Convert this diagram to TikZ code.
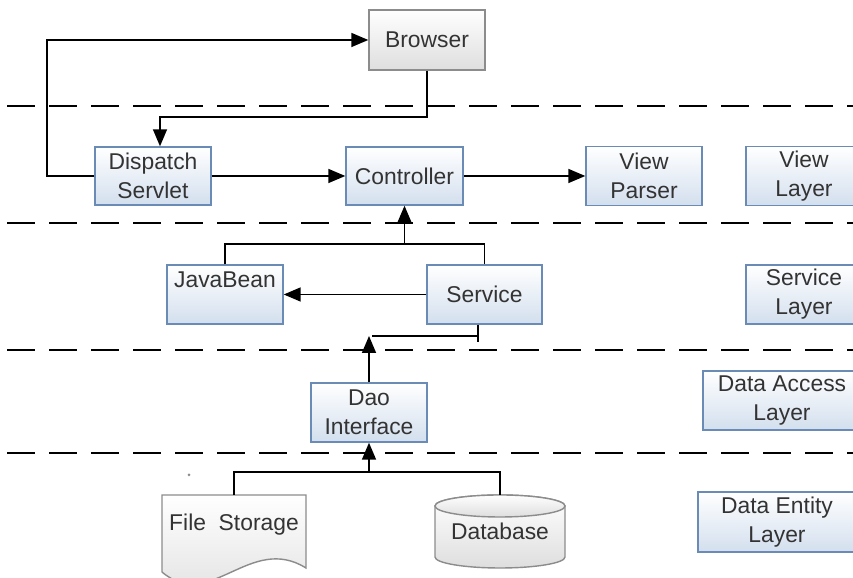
\documentclass[tikz,border=0pt]{standalone}
\usepackage{fontspec}
\setmainfont{Liberation Sans}
\usetikzlibrary{arrows.meta,calc}

\definecolor{boxline}{HTML}{6A8BB5}
\definecolor{boxfill}{HTML}{D3DFEE}
\definecolor{grayline}{HTML}{8C8C8C}
\definecolor{grayfill}{HTML}{DEDEDE}
\definecolor{txt}{HTML}{333333}

\tikzset{
  layerbox/.style={draw=boxline, line width=0.8pt, top color=white, bottom color=boxfill,
    inner sep=0pt, minimum width=2.32cm, minimum height=1.18cm, align=center,
    text=txt, font=\fontsize{13}{16.5}\selectfont},
  graybox/.style={layerbox, draw=grayline, bottom color=grayfill},
  storetext/.style={inner sep=0pt, text=txt, font=\fontsize{13}{16.5}\selectfont},
  storeshape/.style={draw=grayline, line width=0.8pt, top color=white, bottom color=grayfill},
  flow/.style={line width=0.9pt, -{Triangle[length=0.34cm,width=0.28cm]}},
  wire/.style={line width=0.9pt},
  divider/.style={line width=1.6pt, dash pattern=on 0.56cm off 0.28cm},
}

\begin{document}
\begin{tikzpicture}
            \clip (0,0) rectangle (17.06,11.56);

            %% layer dividers
            \draw[divider] (0.14,9.44) -- (17.06,9.44);
            \draw[divider] (0.14,7.1)  -- (17.06,7.1);
            \draw[divider] (0.14,4.56) -- (17.06,4.56);
            \draw[divider] (0.14,2.5)  -- (17.06,2.5);

            %% storage outlines
            \draw[storeshape] (3.24,1.66) -- (6.12,1.66) -- (6.12,0.2)
                .. controls (5.0,0.9) and (4.2,-0.7) .. (3.24,0.12) -- cycle;
            \draw[storeshape] (8.7,1.44) -- (8.7,0.42)
                arc[start angle=180, end angle=360, x radius=1.3, y radius=0.22]
                -- (11.3,1.44)
                arc[start angle=0, end angle=180, x radius=1.3, y radius=0.22] -- cycle;
            \draw[storeshape] (10,1.44) ellipse [x radius=1.3, y radius=0.22];
            \fill[grayline] (3.78,2.06) circle (0.03);

            %% boxes
            \node[graybox, minimum height=1.2cm] (browser) at (8.54,10.76) {Browser};
            \node[layerbox, minimum height=1.16cm] (dispatch) at (3.06,8.04) {Dispatch\\Servlet};
            \node[layerbox, minimum height=1.16cm, minimum width=2.34cm] (controller) at (8.09,8.04) {Controller};
            \node[layerbox] (viewparser) at (12.88,8.04) {View\\Parser};
            \node[layerbox] (viewlayer) at (16.08,8.04) {View\\Layer};
            \node[layerbox] (javabean) at (4.5,5.67) {JavaBean\\\mbox{}};
            \node[layerbox, minimum width=2.3cm] (service) at (9.69,5.67) {Service};
            \node[layerbox] (servicelayer) at (16.08,5.67) {Service\\Layer};
            \node[layerbox] (dao) at (7.38,3.31) {Dao\\Interface};
            \node[layerbox, minimum width=3.16cm] (dataaccess) at (15.64,3.55) {Data Access\\Layer};
            \node[layerbox, minimum width=3.16cm, minimum height=1.2cm] (dataentity) at (15.54,1.12) {Data Entity\\Layer};
            \node[storetext, minimum width=2.88cm, minimum height=1.2cm] (filestorage) at (4.68,1.06) {File\ \ Storage};
            \node[storetext, minimum width=2.6cm, minimum height=1.46cm] (database) at (10,0.93) {Database};

            %% turning points
            \coordinate (loopturn) at (0.94,10.76);
            \coordinate (browserbend) at (3.2,9.22);
            \coordinate (svcbus) at (8.09,6.68);
            \coordinate (svcdrop) at (9.56,4.72);
            \coordinate (daotip) at (7.38,4.84);
            \coordinate (storebus) at (7.38,2.12);

            %% connectors
            \draw[flow] (dispatch.west) -| (loopturn) -- (browser.west);
            \draw[flow] (browser.south) |- (browserbend) -- (browserbend |- dispatch.north);
            \draw[flow] (dispatch.east) -- (controller.west);
            \draw[flow] (controller.east) -- (viewparser.west);

            \draw[wire] (javabean.north) |- (svcbus) -| (service.north);
            \draw[flow] (svcbus) -- (controller.south);
            \draw[flow] (service.west) -- (javabean.east);

            \draw[wire] (service.south -| svcdrop) -- (svcdrop);
            \draw[wire] (svcdrop |- daotip) -- ($(daotip)+(0.06,0)$);
            \draw[flow] (dao.north) -- (daotip);

            \draw[wire] (filestorage.north) |- (storebus) -| (database.north);
            \draw[flow] (storebus) -- (dao.south);

\end{tikzpicture}
\end{document}
